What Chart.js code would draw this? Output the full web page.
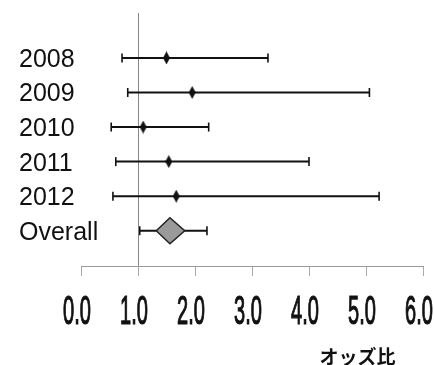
<!DOCTYPE html>
<html><head><meta charset="utf-8">
<script src="https://cdn.jsdelivr.net/npm/chart.js@4/dist/chart.umd.min.js"></script>
<style>html,body{margin:0;padding:0;background:#fff}#wrap{width:434px;height:365px}</style>
</head><body><div id="wrap"><canvas id="c" width="434" height="365"></canvas></div>
<script>
const categories = ['2008', '2009', '2010', '2011', '2012', 'Overall'];
const oddsRatio  = [1.50, 1.95, 1.09, 1.54, 1.67, 1.56];
const lowerCI    = [0.72, 0.82, 0.53, 0.61, 0.56, 1.03];
const upperCI    = [3.28, 5.06, 2.24, 4.00, 5.23, 2.21];
const overallDiamond = [1.32, 1.82];
const xTickValues = [0, 1, 2, 3, 4, 5, 6];
const xTickLabels = ['0.0', '1.0', '2.0', '3.0', '4.0', '5.0', '6.0'];
const referenceValue = 1.0;
const xAxisTitle = 'オッズ比';

const nStudies = categories.length - 1;
const overallRow = categories.length - 1;

function diamondMarker(w, h) {
  const cv = document.createElement('canvas');
  cv.width = w; cv.height = h;
  const g = cv.getContext('2d');
  g.fillStyle = '#111';
  g.beginPath();
  g.moveTo(w / 2, 0); g.lineTo(w, h / 2); g.lineTo(w / 2, h); g.lineTo(0, h / 2); g.closePath();
  g.fill();
  return cv;
}
const marker = diamondMarker(7, 13);

const datasets = [];
categories.forEach((c, i) => {
  datasets.push({
    data: [{x: lowerCI[i], y: i}, {x: upperCI[i], y: i}],
    showLine: true, borderColor: '#111', borderWidth: 2,
    pointStyle: 'line', rotation: 90, pointRadius: 4.5,
    pointBorderColor: '#111', pointBorderWidth: 1.6, order: 2
  });
});
datasets.push({
  data: categories.slice(0, nStudies).map((c, i) => ({x: oddsRatio[i], y: i})),
  pointStyle: marker, pointRadius: 6, showLine: false, order: 0
});
const dh = 0.375;
datasets.push({
  data: [
    {x: overallDiamond[0], y: overallRow},
    {x: oddsRatio[overallRow], y: overallRow - dh},
    {x: overallDiamond[1], y: overallRow},
    {x: oddsRatio[overallRow], y: overallRow + dh},
    {x: overallDiamond[0], y: overallRow}
  ],
  showLine: true, borderColor: '#222', borderWidth: 1.5,
  backgroundColor: '#9a9a9a', fill: 'shape', pointRadius: 0, tension: 0, order: 1
});

// condensed tick labels + axis title, positioned through the x scale
const textPlugin = {
  id: 'texts',
  afterDraw(chart) {
    const g = chart.ctx, xs = chart.scales.x;
    g.save();
    g.fillStyle = '#111';
    g.strokeStyle = '#111';
    g.lineWidth = 1.2;
    g.font = '40px "Liberation Sans", Arial, sans-serif';
    g.textAlign = 'center';
    g.textBaseline = 'alphabetic';
    xTickValues.forEach((v, i) => {
      g.save();
      g.translate(xs.getPixelForValue(v) - 4, 324);
      g.scale(0.5, 1);
      g.fillText(xTickLabels[i], 0, 0);
      g.strokeText(xTickLabels[i], 0, 0);
      g.restore();
    });
    g.font = 'bold 19px "Noto Sans CJK JP"';
    g.textBaseline = 'middle';
    g.fillText(xAxisTitle, xs.getPixelForValue(4.85), 357);
    g.restore();
  }
};

new Chart(document.getElementById('c'), {
  type: 'scatter',
  data: {datasets},
  plugins: [textPlugin],
  options: {
    responsive: false, animation: false,
    layout: {padding: {left: 0, top: 13, right: 11, bottom: 0}},
    plugins: {legend: {display: false}, tooltip: {enabled: false}},
    scales: {
      x: {
        type: 'linear', min: 0, max: 6,
        afterBuildTicks: s => { s.ticks = xTickValues.map(v => ({value: v})); },
        afterFit: s => { s.height = 99; s.paddingRight = 0; s.paddingLeft = 0; },
        border: {display: true, color: '#999', width: 1},
        grid: {
          drawOnChartArea: true, tickLength: 10, tickColor: '#aaa',
          color: ctx => (ctx.tick && ctx.tick.value === referenceValue) ? '#888' : 'rgba(0,0,0,0)',
          lineWidth: 1
        },
        ticks: {
          padding: 20, color: 'rgba(0,0,0,0)',
          font: {family: '"Liberation Sans", sans-serif', size: 24},
          callback: (v, i) => xTickLabels[i], maxRotation: 0
        }
      },
      y: {
        type: 'linear', min: -1.3, max: 6.02, reverse: true,
        afterBuildTicks: s => { s.ticks = categories.map((c, i) => ({value: i})); },
        afterFit: s => { s.width = 81; },
        border: {display: false},
        grid: {display: false},
        ticks: {
          mirror: true, padding: -62, crossAlign: 'near', color: '#111', labelOffset: 2,
          font: {family: '"Liberation Sans", Arial, sans-serif', size: 25},
          callback: v => categories[v]
        }
      }
    }
  }
});
</script>
</body></html>
